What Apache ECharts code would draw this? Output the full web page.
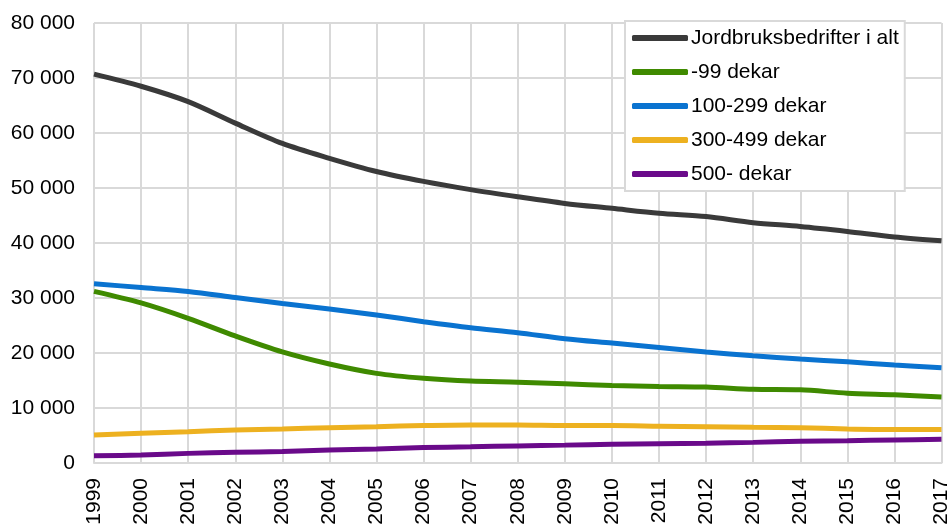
<!DOCTYPE html>
<html>
<head>
<meta charset="utf-8">
<script src="https://cdn.jsdelivr.net/npm/echarts@6/dist/echarts.min.js"></script>
<style>html,body{margin:0;padding:0;background:#fff}#c{width:952px;height:529px}</style>
</head>
<body>
<div id="c"></div>
<script>
const years = ['1999','2000','2001','2002','2003','2004','2005','2006','2007','2008','2009','2010','2011','2012','2013','2014','2015','2016','2017'];
const seriesNames = ['Jordbruksbedrifter i alt','-99 dekar','100-299 dekar','300-499 dekar','500- dekar'];
const totalAll = [70700,68500,65700,61800,58100,55400,53000,51200,49700,48400,47200,46300,45400,44800,43700,43000,42100,41100,40400];
const under99 = [31200,29100,26300,23100,20200,18000,16300,15400,14900,14700,14400,14100,13900,13800,13400,13300,12700,12400,12000];
const d100_299 = [32600,31900,31200,30100,29000,28000,26900,25700,24600,23700,22600,21800,21000,20200,19500,18900,18400,17800,17300];
const d300_499 = [5100,5400,5700,6000,6200,6400,6600,6800,6900,6900,6800,6800,6700,6600,6500,6400,6200,6100,6100];
const d500 = [1300,1450,1750,1950,2100,2350,2550,2800,2950,3100,3250,3400,3500,3600,3750,3950,4050,4200,4300];
const yTicks = [0,10000,20000,30000,40000,50000,60000,70000,80000];

const colors = ['#3a3a3a','#3f8a00','#0a73d0','#edb120','#6a0a8a'];
const dataArr = [totalAll, under99, d100_299, d300_499, d500];

const chart = echarts.init(document.getElementById('c'), null, {renderer:'canvas'});
const fmt = v => { const s = String(v); return s.length > 3 ? s.slice(0, s.length-3) + ' ' + s.slice(-3) : s; };
chart.setOption({
  animation:false,
  textStyle:{fontFamily:'Liberation Sans, Arial, sans-serif'},
  grid:{left:94,right:10,top:23,bottom:66,containLabel:false},
  legend:{
    orient:'vertical',
    left:625, top:21,
    padding:[5,6,5,7],
    backgroundColor:'#fff',
    borderColor:'#d9d9d9', borderWidth:2,
    itemWidth:56, itemHeight:6, itemGap:10,
    icon:'roundRect',
    textStyle:{fontSize:21, color:'#000', padding:[0,0,0,-2], lineHeight:24},
    data: seriesNames
  },
  xAxis:{
    type:'category', data:years, boundaryGap:false,
    axisLine:{show:true, lineStyle:{color:'#d9d9d9', width:2}},
    axisTick:{show:false},
    splitLine:{show:true, interval:0, lineStyle:{color:'#d9d9d9', width:2}},
    axisLabel:{rotate:90, interval:0, fontSize:21, color:'#000', margin:15}
  },
  yAxis:{
    type:'value', min:yTicks[0], max:yTicks[yTicks.length-1], interval:10000,
    axisLine:{show:false}, axisTick:{show:false},
    splitLine:{show:true, lineStyle:{color:'#d9d9d9', width:2}},
    axisLabel:{fontSize:21, color:'#000', margin:19, formatter:fmt}
  },
  series: seriesNames.map((n,i)=>({
    name:n, type:'line', data:dataArr[i], smooth:0.3, symbol:'none',
    lineStyle:{color:colors[i], width:5}, itemStyle:{color:colors[i]}, z: 10-i
  }))
});
</script>
</body>
</html>
